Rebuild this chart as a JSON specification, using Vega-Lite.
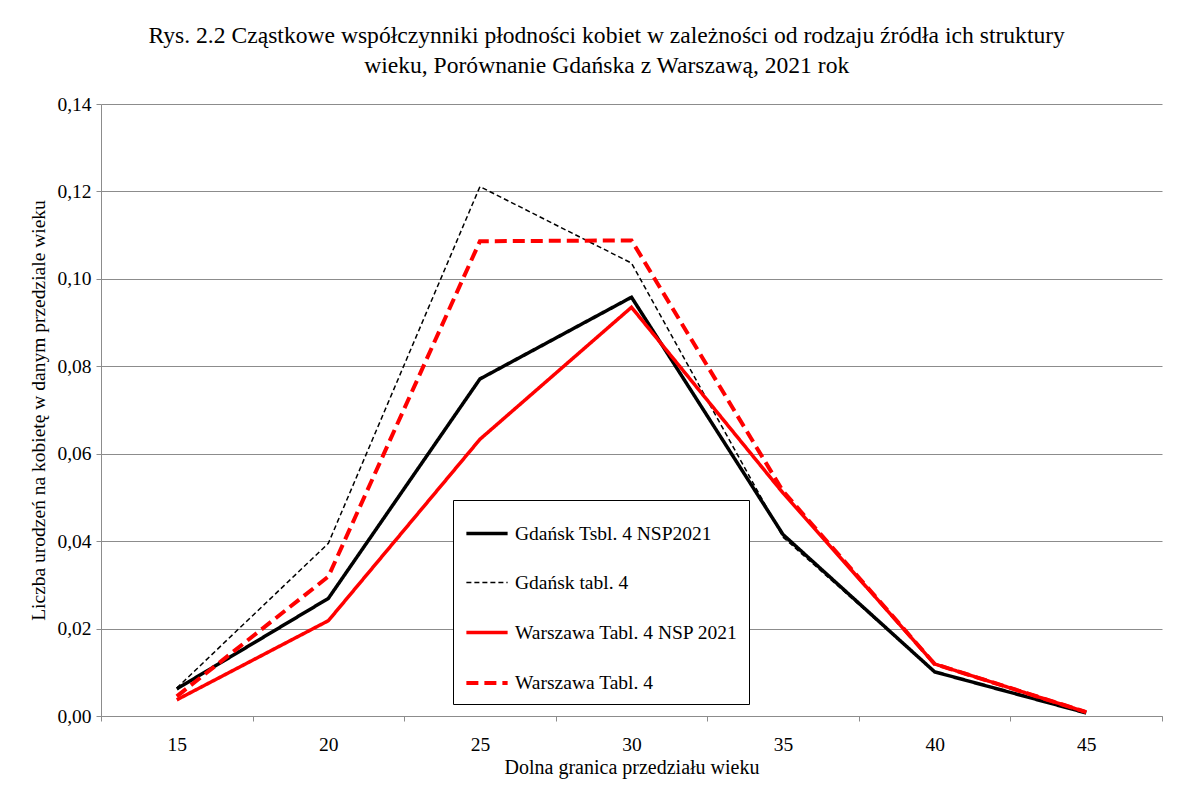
{
  "$schema": "https://vega.github.io/schema/vega-lite/v6.json",
  "width": 1201,
  "height": 793,
  "autosize": {"type": "fit", "contains": "padding"},
  "padding": {"left": 28, "right": 38, "top": 24, "bottom": 15},
  "background": "white",
  "title": {
    "text": ["Rys. 2.2 Cząstkowe współczynniki płodności kobiet w zależności od rodzaju źródła ich struktury", "wieku, Porównanie Gdańska z Warszawą, 2021 rok"],
    "font": "Liberation Serif",
    "fontSize": 23.6,
    "fontWeight": "normal",
    "color": "black",
    "anchor": "middle",
    "frame": "bounds",
    "dx": 11,
    "lineHeight": 30,
    "offset": 16
  },
  "config": {
    "view": {"stroke": null}
  },
  "data": {
    "values": [
      {"wiek": "15", "seria": "Gdańsk Tsbl. 4 NSP2021", "v": 0.0062},
      {"wiek": "20", "seria": "Gdańsk Tsbl. 4 NSP2021", "v": 0.0269},
      {"wiek": "25", "seria": "Gdańsk Tsbl. 4 NSP2021", "v": 0.0771},
      {"wiek": "30", "seria": "Gdańsk Tsbl. 4 NSP2021", "v": 0.0958},
      {"wiek": "35", "seria": "Gdańsk Tsbl. 4 NSP2021", "v": 0.0415},
      {"wiek": "40", "seria": "Gdańsk Tsbl. 4 NSP2021", "v": 0.0101},
      {"wiek": "45", "seria": "Gdańsk Tsbl. 4 NSP2021", "v": 0.0007},
      {"wiek": "15", "seria": "Gdańsk tabl. 4", "v": 0.0064},
      {"wiek": "20", "seria": "Gdańsk tabl. 4", "v": 0.0395},
      {"wiek": "25", "seria": "Gdańsk tabl. 4", "v": 0.1211},
      {"wiek": "30", "seria": "Gdańsk tabl. 4", "v": 0.1036},
      {"wiek": "35", "seria": "Gdańsk tabl. 4", "v": 0.0409},
      {"wiek": "40", "seria": "Gdańsk tabl. 4", "v": 0.0101},
      {"wiek": "45", "seria": "Gdańsk tabl. 4", "v": 0.0007},
      {"wiek": "15", "seria": "Warszawa Tabl. 4 NSP 2021", "v": 0.0037},
      {"wiek": "20", "seria": "Warszawa Tabl. 4 NSP 2021", "v": 0.0218},
      {"wiek": "25", "seria": "Warszawa Tabl. 4 NSP 2021", "v": 0.0633},
      {"wiek": "30", "seria": "Warszawa Tabl. 4 NSP 2021", "v": 0.0935},
      {"wiek": "35", "seria": "Warszawa Tabl. 4 NSP 2021", "v": 0.0510},
      {"wiek": "40", "seria": "Warszawa Tabl. 4 NSP 2021", "v": 0.0119},
      {"wiek": "45", "seria": "Warszawa Tabl. 4 NSP 2021", "v": 0.0009},
      {"wiek": "15", "seria": "Warszawa Tabl. 4", "v": 0.0045},
      {"wiek": "20", "seria": "Warszawa Tabl. 4", "v": 0.0319},
      {"wiek": "25", "seria": "Warszawa Tabl. 4", "v": 0.1086},
      {"wiek": "30", "seria": "Warszawa Tabl. 4", "v": 0.1088},
      {"wiek": "35", "seria": "Warszawa Tabl. 4", "v": 0.0514},
      {"wiek": "40", "seria": "Warszawa Tabl. 4", "v": 0.0119},
      {"wiek": "45", "seria": "Warszawa Tabl. 4", "v": 0.0009}
    ]
  },
  "mark": {"type": "line", "strokeJoin": "miter", "strokeCap": "butt"},
  "encoding": {
    "x": {
      "field": "wiek",
      "type": "ordinal",
      "sort": null,
      "scale": {"paddingInner": 0, "paddingOuter": 0},
      "axis": {
        "title": "Dolna granica przedziału wieku",
        "labelAngle": 0,
        "tickBand": "extent",
        "tickSize": 5,
        "labelPadding": 14,
        "titlePadding": 4,
        "labelFont": "Liberation Serif",
        "titleFont": "Liberation Serif",
        "labelFontSize": 19.5,
        "titleFontSize": 20,
        "labelColor": "black",
        "titleColor": "black",
        "titleFontWeight": "normal",
        "domainColor": "#8c8c8c",
        "tickColor": "#8c8c8c"
      }
    },
    "y": {
      "field": "v",
      "type": "quantitative",
      "scale": {"domain": [0, 0.14]},
      "axis": {
        "title": "Liczba urodzeń na kobietę w danym przedziale wieku",
        "values": [0, 0.02, 0.04, 0.06, 0.08, 0.1, 0.12, 0.14],
        "labelExpr": "replace(format(datum.value, '.2f'), '.', ',')",
        "tickSize": 5,
        "labelPadding": 5,
        "titlePadding": 8,
        "labelFont": "Liberation Serif",
        "titleFont": "Liberation Serif",
        "labelFontSize": 19.5,
        "titleFontSize": 19.5,
        "labelColor": "black",
        "titleColor": "black",
        "titleFontWeight": "normal",
        "domainColor": "#8c8c8c",
        "tickColor": "#8c8c8c",
        "gridColor": "#8c8c8c"
      }
    },
    "detail": {"field": "seria"},
    "color": {
      "field": "seria",
      "type": "nominal",
      "sort": null,
      "scale": {
        "domain": ["Gdańsk Tsbl. 4 NSP2021", "Gdańsk tabl. 4", "Warszawa Tabl. 4 NSP 2021", "Warszawa Tabl. 4"],
        "range": ["#000000", "#000000", "#ff0000", "#ff0000"]
      },
      "legend": {
        "title": null,
        "orient": "none",
        "legendX": 352,
        "legendY": 396,
        "symbolType": "stroke",
        "symbolSize": 1700,
        "rowPadding": 18,
        "padding": 11,
        "labelOffset": 5,
        "strokeColor": "black",
        "fillColor": "white",
        "labelLimit": 400,
        "labelFont": "Liberation Serif",
        "labelFontSize": 19.5,
        "labelColor": "black"
      }
    },
    "strokeDash": {
      "field": "seria",
      "type": "nominal",
      "sort": null,
      "scale": {
        "domain": ["Gdańsk Tsbl. 4 NSP2021", "Gdańsk tabl. 4", "Warszawa Tabl. 4 NSP 2021", "Warszawa Tabl. 4"],
        "range": [[1, 0], [5, 3], [1, 0], [12, 6]]
      }
    },
    "strokeWidth": {
      "field": "seria",
      "type": "nominal",
      "sort": null,
      "scale": {
        "type": "ordinal",
        "domain": ["Gdańsk Tsbl. 4 NSP2021", "Gdańsk tabl. 4", "Warszawa Tabl. 4 NSP 2021", "Warszawa Tabl. 4"],
        "range": [3.5, 1.5, 3.5, 4]
      }
    }
  }
}
